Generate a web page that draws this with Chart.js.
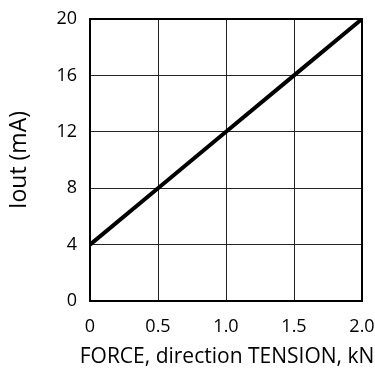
<!DOCTYPE html>
<html>
<head>
<meta charset="utf-8">
<script src="https://cdn.jsdelivr.net/npm/chart.js@4.4.0/dist/chart.umd.min.js"></script>
<style>
  html, body { margin: 0; padding: 0; background: #fff; }
  #wrap { width: 375px; height: 370px; }
</style>
</head>
<body>
<div id="wrap"><canvas id="myChart" width="375" height="370"></canvas></div>
<script>
// valores
const forceKN = [0, 0.5, 1.0, 1.5, 2.0];
const ioutMA = [4, 8, 12, 16, 20];
const xTicks = [0, 0.5, 1.0, 1.5, 2.0];
const yTicks = [0, 4, 8, 12, 16, 20];
const xTitle = 'FORCE, direction TENSION, kN';
const yTitle = 'Iout (mA)';

const points = forceKN.map((x, i) => ({ x: x, y: ioutMA[i] }));

const fontFam = "'Open Sans', sans-serif";

// moldura preta à volta da área do gráfico + título do eixo x
// (o título da escala é comprimido à largura da área, por isso é desenhado aqui)
const frame = {
  id: 'frame',
  afterDraw(chart) {
    const a = chart.chartArea;
    const c = chart.ctx;
    c.save();
    c.strokeStyle = '#000';
    c.lineWidth = 2;
    c.strokeRect(a.left, a.top, a.right - a.left, a.bottom - a.top);
    c.fillStyle = '#000';
    c.font = "21px " + fontFam;
    c.textAlign = 'center';
    c.textBaseline = 'middle';
    c.fillText(xTitle, (a.left + a.right) / 2 + 1, 357);
    c.restore();
  }
};

new Chart(document.getElementById('myChart'), {
  type: 'scatter',
  data: {
    datasets: [{
      data: points,
      showLine: true,
      borderColor: '#000',
      borderWidth: 4,
      pointRadius: 0,
      fill: false
    }]
  },
  options: {
    responsive: false,
    animation: false,
    layout: { padding: { top: 19, right: 13, left: 0, bottom: 0 } },
    plugins: { legend: { display: false }, tooltip: { enabled: false } },
    scales: {
      x: {
        type: 'linear',
        min: 0, max: 2,
        afterFit: (s) => { s.height = 69; s.paddingLeft = 0; s.paddingRight = 0; },
        afterBuildTicks: (s) => { s.ticks = xTicks.map(v => ({ value: v })); },
        grid: { color: '#222', lineWidth: 1, drawTicks: false },
        border: { display: false },
        ticks: {
          padding: 15,
          color: '#000',
          maxRotation: 0,
          font: { family: fontFam, size: 18 },
          callback: (v) => v === 0 ? '0' : v.toFixed(1)
        },
        title: { display: false }
      },
      y: {
        min: 0, max: 20,
        afterFit: (s) => { s.width = 90; s.paddingTop = 0; s.paddingBottom = 0; },
        afterBuildTicks: (s) => { s.ticks = yTicks.map(v => ({ value: v })); },
        grid: { color: '#222', lineWidth: 1, drawTicks: false },
        border: { display: false },
        ticks: {
          padding: 13,
          color: '#000',
          font: { family: fontFam, size: 18 }
        },
        title: {
          display: true,
          text: yTitle,
          color: '#000',
          font: { family: fontFam, size: 23 },
          padding: { top: 6, bottom: 0 }
        }
      }
    }
  },
  plugins: [frame]
});
</script>
</body>
</html>
